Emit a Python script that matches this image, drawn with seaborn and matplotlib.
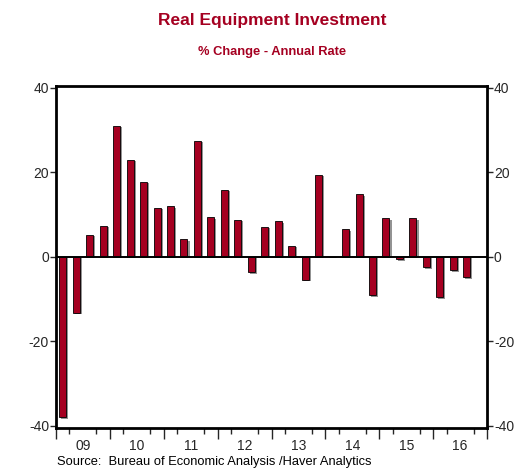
import matplotlib
matplotlib.use("Agg")
import matplotlib.pyplot as plt
import matplotlib.patheffects as pe
from matplotlib.ticker import FixedLocator, NullFormatter
import seaborn as sns
import pandas as pd
import numpy as np

# ---- data ----
years = [2009, 2010, 2011, 2012, 2013, 2014, 2015, 2016]
quarters = [f"{y}Q{q}" for y in years for q in range(1, 5)]
values = [-38.0, -13.2, 5.2, 7.4,
          31.0, 23.0, 17.8, 11.6,
          12.0, 4.2, 27.5, 9.3,
          15.9, 8.8, -3.6, 7.1,
          8.5, 2.6, -5.4, 19.4,
          0.0, 6.5, 14.8, -9.0,
          9.1, -0.6, 9.1, -2.5,
          -9.6, -3.1, -4.8, np.nan]
year_labels = ["09", "10", "11", "12", "13", "14", "15", "16"]
y_ticks = [-40, -20, 0, 20, 40]

title = "Real Equipment Investment"
subtitle = "% Change - Annual Rate"
source = "Source:  Bureau of Economic Analysis /Haver Analytics"

RED = "#A50021"

sns.set_style("white")
plt.rcParams['font.family'] = ['Liberation Sans', 'DejaVu Sans']

df = pd.DataFrame({"quarter": quarters, "value": values})

fig = plt.figure(figsize=(5.26, 4.69), dpi=100)
ax = fig.add_axes([56/526, 1-428/469, (487-56)/526, (428-86)/469])

sns.barplot(data=df, x="quarter", y="value", order=quarters, color=RED,
            saturation=1, width=0.52, edgecolor="black", linewidth=0.6, ax=ax)
for p in ax.patches:
    p.set_path_effects([pe.SimplePatchShadow(offset=(1.5, -1.2), shadow_rgbFace="#666666", alpha=0.7),
                        pe.Normal()])

ax.set_xlim(-0.5, len(quarters) - 0.5)
ax.set_ylim(-40.5, 40.4)
ax.axhline(0, color="black", lw=1.4, zorder=1)

# y axes
ax.set_yticks(y_ticks)
ax.set_yticklabels([str(v) for v in y_ticks])
ax.tick_params(axis="y", which="major", direction="out", length=4, width=1,
               labelsize=10, left=True, right=True, labelleft=True, labelright=True, pad=1)

# x axis: year labels centered, quarter boundary ticks
centers = [i * 4 + 1.5 for i in range(len(years))]
ax.set_xticks(centers)
ax.set_xticklabels(year_labels)
ax.tick_params(axis="x", which="major", length=0, labelsize=10, pad=8)
qb = [i - 0.5 for i in range(len(quarters) + 1) if i % 4 != 0]
ax.xaxis.set_minor_locator(FixedLocator(qb))
ax.tick_params(axis="x", which="minor", direction="out", length=4, width=1, bottom=True, pad=4)
ax.set_xlabel("")
ax.set_ylabel("")

sec = ax.secondary_xaxis("bottom")
sec.set_xticks([i * 4 - 0.5 for i in range(len(years) + 1)])
sec.xaxis.set_major_formatter(NullFormatter())
sec.tick_params(axis="x", direction="out", length=8, width=1, pad=0)
sec.spines["bottom"].set_visible(False)
sec.xaxis.set_minor_locator(FixedLocator([]))

for s in ax.spines.values():
    s.set_visible(True)
    s.set_linewidth(2)
    s.set_color("black")

fig.text(272/526, 1-20/469, title, ha="center", va="center", color=RED,
         fontsize=12.5, fontweight="bold")
fig.text(272/526, 1-52/469, subtitle, ha="center", va="center", color=RED,
         fontsize=9.3, fontweight="bold")
fig.text(57/526, 1-462/469, source, ha="left", va="center", color="black",
         fontsize=9.3)

fig.savefig("out.png", dpi=100)
